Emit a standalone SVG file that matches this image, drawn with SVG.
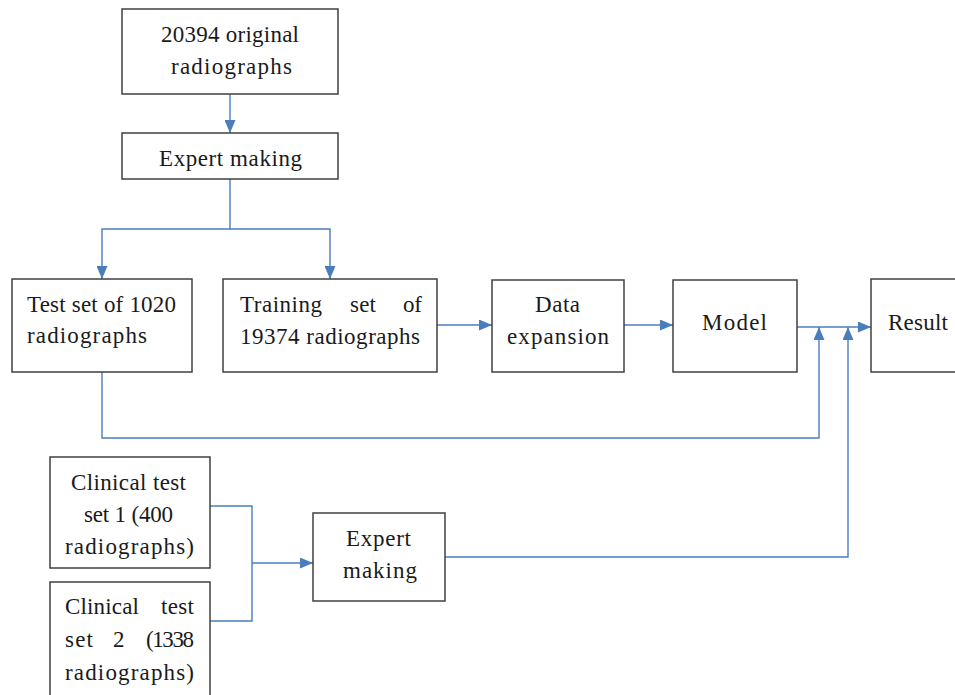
<svg xmlns="http://www.w3.org/2000/svg" width="955" height="695" viewBox="0 0 955 695">
<style>
.box{fill:#fff;stroke:#404040;stroke-width:1.5}
.t{font-family:"Liberation Serif","Times New Roman",serif;font-size:23px;fill:#1a1a1a}
.c{fill:none;stroke:#4a7ebb;stroke-width:1.4}
</style>
<defs>
<marker id="ah" markerUnits="userSpaceOnUse" markerWidth="13" markerHeight="11" viewBox="0 0 13 11" refX="13" refY="5.5" orient="auto">
<path d="M0,0 L13,5.5 L0,11 z" fill="#4a7ebb"/>
</marker>
</defs>
<rect width="955" height="695" fill="#fff"/>
<g id="connectors">
<path class="c" d="M230,94 V133" marker-end="url(#ah)"/>
<path class="c" d="M230,179 V229 H102 V279" marker-end="url(#ah)"/>
<path class="c" d="M230,229 H330 V279" marker-end="url(#ah)"/>
<path class="c" d="M437,325 H492" marker-end="url(#ah)"/>
<path class="c" d="M624,325 H673" marker-end="url(#ah)"/>
<path class="c" d="M797,327 H871" marker-end="url(#ah)"/>
<path class="c" d="M102,372 V438 H819 V327" marker-end="url(#ah)"/>
<path class="c" d="M445,557 H848 V327" marker-end="url(#ah)"/>
<path class="c" d="M210,506 H252 V621 H210"/>
<path class="c" d="M252,563 H313" marker-end="url(#ah)"/>
</g>
<g id="n1"><rect class="box" x="122" y="9" width="216" height="85"/>
<text class="t" x="161" y="42" textLength="138" lengthAdjust="spacing">20394 original</text>
<text class="t" x="171" y="74" textLength="121" lengthAdjust="spacing">radiographs</text></g>
<g id="n2"><rect class="box" x="122" y="133" width="216" height="46"/>
<text class="t" x="159" y="166" textLength="143" lengthAdjust="spacing">Expert making</text></g>
<g id="n3"><rect class="box" x="12" y="279" width="180" height="93"/>
<text class="t" x="27" y="312" textLength="149" lengthAdjust="spacing">Test set of 1020</text>
<text class="t" x="27" y="343" textLength="120" lengthAdjust="spacing">radiographs</text></g>
<g id="n4"><rect class="box" x="223" y="279" width="214" height="93"/>
<text class="t" x="240" y="312" textLength="82" lengthAdjust="spacing">Training</text>
<text class="t" x="350" y="312" textLength="26" lengthAdjust="spacing">set</text>
<text class="t" x="403" y="312" textLength="19" lengthAdjust="spacing">of</text>
<text class="t" x="240" y="344" textLength="180" lengthAdjust="spacing">19374 radiographs</text></g>
<g id="n5"><rect class="box" x="492" y="280" width="132" height="92"/>
<text class="t" x="535" y="312" textLength="45" lengthAdjust="spacing">Data</text>
<text class="t" x="507" y="344" textLength="102" lengthAdjust="spacing">expansion</text></g>
<g id="n6"><rect class="box" x="673" y="280" width="124" height="92"/>
<text class="t" x="702" y="330" textLength="65" lengthAdjust="spacing">Model</text></g>
<g id="n7"><rect class="box" x="871" y="279" width="90" height="93"/>
<text class="t" x="888" y="330" textLength="60" lengthAdjust="spacing">Result</text></g>
<g id="n8"><rect class="box" x="50" y="457" width="160" height="111"/>
<text class="t" x="71" y="490" textLength="115" lengthAdjust="spacing">Clinical test</text>
<text class="t" x="84" y="522" textLength="89" lengthAdjust="spacing">set 1 (400</text>
<text class="t" x="65" y="554" textLength="129" lengthAdjust="spacing">radiographs)</text></g>
<g id="n9"><rect class="box" x="50" y="582" width="160" height="120"/>
<text class="t" x="65" y="614" textLength="74" lengthAdjust="spacing">Clinical</text>
<text class="t" x="161" y="614" textLength="33" lengthAdjust="spacing">test</text>
<text class="t" x="65" y="647" textLength="28" lengthAdjust="spacing">set</text>
<text class="t" x="113" y="647">2</text>
<text class="t" x="146" y="647" textLength="48" lengthAdjust="spacing">(1338</text>
<text class="t" x="65" y="680" textLength="129" lengthAdjust="spacing">radiographs)</text></g>
<g id="n10"><rect class="box" x="313" y="513" width="132" height="88"/>
<text class="t" x="346" y="546" textLength="65" lengthAdjust="spacing">Expert</text>
<text class="t" x="343" y="578" textLength="74" lengthAdjust="spacing">making</text></g>
</svg>
